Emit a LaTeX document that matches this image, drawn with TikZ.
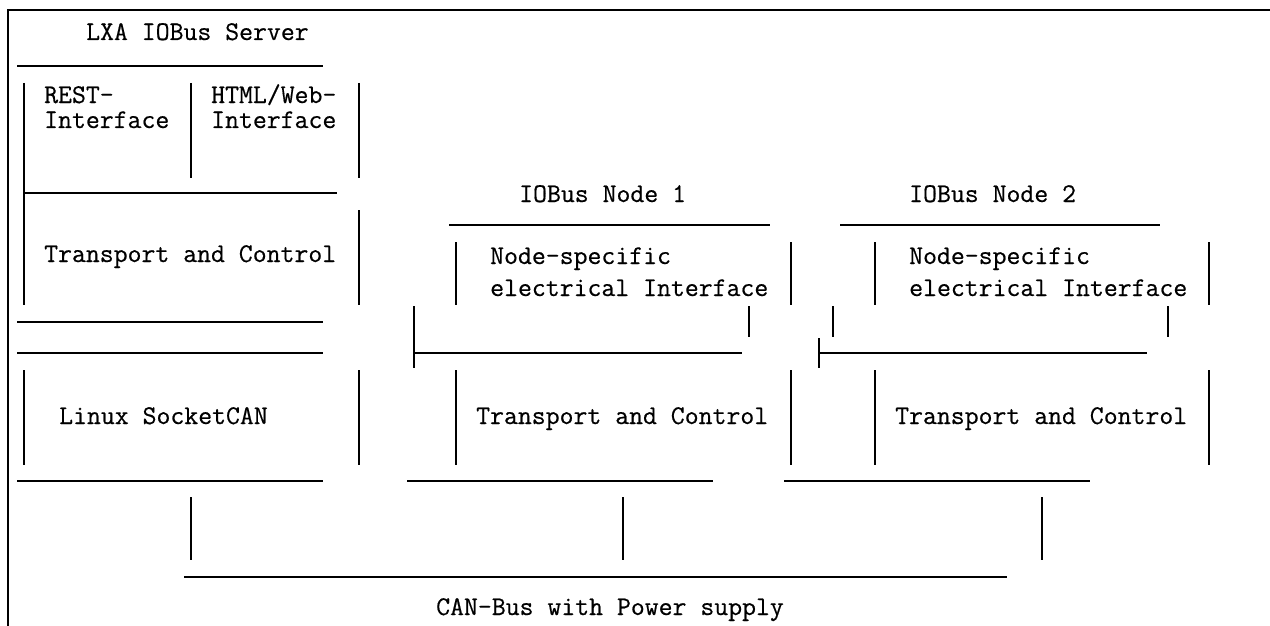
\documentclass[tikz,border=0pt]{standalone}
\usepackage{fontspec}
\setmonofont[FakeBold=0.5]{Latin Modern Mono}
\begin{document}
\begin{tikzpicture}[x=1pt,y=-1pt,
  ln/.style={line width=1.2pt, draw=black},
  txt/.style={anchor=base west, inner sep=0pt, font=\ttfamily\fontsize{27}{31}\selectfont}]
\useasboundingbox (0,0) rectangle (1270,626);
% frame
\draw[ln] (8,626) -- (8,10) -- (1270,10);
% ---------- server ----------
\node[txt] (srvtitle) at (86,40) {LXA IOBus Server};
\draw[ln] (17,66) -- (323,66);
\draw[ln] (24,83) -- (24,305);
\draw[ln] (24,193) -- (337,193);
\draw[ln] (191,83) -- (191,178);
\draw[ln] (359,83) -- (359,178);
\draw[ln] (359,210) -- (359,305);
\node[txt] (rest1) at (44,103) {REST-};
\node[txt] (rest2) at (44,128) {Interface};
\node[txt] (html1) at (211,103) {HTML/Web-};
\node[txt] (html2) at (211,128) {Interface};
\node[txt] (srvtc) at (44,262) {Transport and Control};
\draw[ln] (17,322) -- (323,322);
\draw[ln] (17,353) -- (323,353);
\draw[ln] (24,370) -- (24,465);
\draw[ln] (359,370) -- (359,465);
\node[txt] (socketcan) at (59,424) {Linux SocketCAN};
\draw[ln] (17,481) -- (323,481);
% ---------- node 1 ----------
\node[txt] (n1title) at (519,202) {IOBus Node 1};
\draw[ln] (449,225) -- (770,225);
\draw[ln] (456,242) -- (456,305);
\draw[ln] (791,242) -- (791,305);
\node[txt] (n1a) at (490,264) {Node-specific};
\node[txt] (n1b) at (490,296) {electrical Interface};
\draw[ln] (414,306) -- (414,368);
\draw[ln] (414,353) -- (742,353);
\draw[ln] (749,306) -- (749,337);
\draw[ln] (456,370) -- (456,465);
\draw[ln] (791,370) -- (791,465);
\node[txt] (n1tc) at (476,424) {Transport and Control};
\draw[ln] (407,481) -- (713,481);
% ---------- node 2 ----------
\node[txt] (n2title) at (909,202) {IOBus Node 2};
\draw[ln] (840,225) -- (1160,225);
\draw[ln] (875,242) -- (875,305);
\draw[ln] (1209,242) -- (1209,305);
\node[txt] (n2a) at (909,264) {Node-specific};
\node[txt] (n2b) at (909,296) {electrical Interface};
\draw[ln] (833,306) -- (833,337);
\draw[ln] (1168,306) -- (1168,337);
\draw[ln] (819,338) -- (819,368);
\draw[ln] (819,353) -- (1147,353);
\draw[ln] (875,370) -- (875,465);
\draw[ln] (1209,370) -- (1209,465);
\node[txt] (n2tc) at (895,424) {Transport and Control};
\draw[ln] (784,481) -- (1090,481);
% ---------- bus ----------
\draw[ln] (191,497) -- (191,560);
\draw[ln] (623,497) -- (623,560);
\draw[ln] (1042,497) -- (1042,560);
\draw[ln] (184,577) -- (1007,577);
\node[txt] (bus) at (436,615) {CAN-Bus with Power supply};
\end{tikzpicture}
\end{document}
